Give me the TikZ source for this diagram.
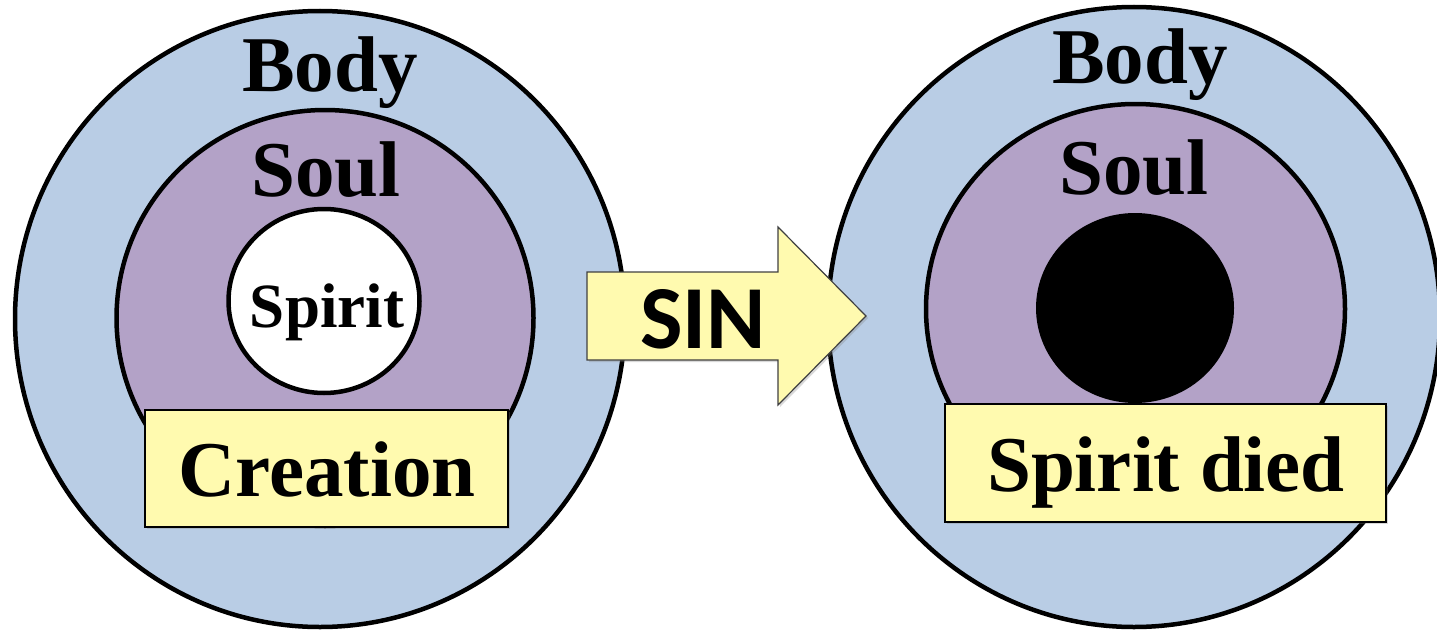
\documentclass[tikz,border=0pt]{standalone}
\usepackage{fontspec}
\setmainfont{Liberation Serif}
\newfontfamily\sinfont{Carlito}
\usetikzlibrary{shapes.geometric,shadows}
\definecolor{bodyblue}{HTML}{B9CDE5}
\definecolor{soulpurple}{HTML}{B3A2C7}
\definecolor{labelyellow}{HTML}{FFFAAF}
\tikzset{
  ring/.style={ellipse, draw=black, line width=4.5pt, inner sep=0pt},
  labelbox/.style={rectangle, draw=black, line width=2pt, fill=labelyellow, inner sep=0pt,
    drop shadow={opacity=0.3, shadow xshift=2pt, shadow yshift=-2pt}},
  bigtext/.style={anchor=base, inner sep=0pt, font=\bfseries\fontsize{79}{79}\selectfont},
}
\begin{document}
\begin{tikzpicture}[x=1pt,y=-1pt]
\useasboundingbox (0,0) rectangle (1437,634);
% left figure
\node[ring, fill=bodyblue, minimum width=610pt, minimum height=616pt] (lbody) at (320,319) {};
\node[ring, fill=soulpurple, minimum width=417pt, minimum height=416pt] (lsoul) at (325,318) {};
\node[ring, fill=white, minimum width=191pt, minimum height=184pt] (lspirit) at (324,301) {};
\node[labelbox, minimum width=363pt, minimum height=117pt] (lbox) at (326.5,468.5) {};
\node[bigtext] (lbodytxt) at (330,91) {Body};
\node[bigtext] (lsoultxt) at (326,196) {Soul};
\node[anchor=base, inner sep=0pt, font=\bfseries\fontsize{63}{63}\selectfont] (lspirittxt) at (327,327) {Spirit};
\node[bigtext] (lboxtxt) at (327,496.5) {Creation};
% right figure
\node[ring, fill=bodyblue, minimum width=612pt, minimum height=620pt] (rbody) at (1134,317) {};
\node[ring, fill=soulpurple, minimum width=419pt, minimum height=410pt] (rsoul) at (1135.5,309) {};
\node[ellipse, fill=black, inner sep=0pt, minimum width=198pt, minimum height=190pt] (rspirit) at (1135,308) {};
\node[labelbox, minimum width=441pt, minimum height=118pt] (rbox) at (1165.5,463) {};
\node[bigtext] (rbodytxt) at (1140,84) {Body};
\node[bigtext] (rsoultxt) at (1134,194) {Soul};
\node[bigtext] (rboxtxt) at (1166,491) {Spirit died};
% arrow
\draw[draw=black!75, line width=1.2pt, fill=labelyellow,
      drop shadow={opacity=0.3, shadow xshift=2pt, shadow yshift=-2pt}]
  (587,272) -- (778,272) -- (778,227) -- (866,316) -- (778,405) -- (778,360) -- (587,360) -- cycle;
\node[anchor=base, inner sep=0pt, font=\sinfont\bfseries\fontsize{90}{90}\selectfont] (sin) at (703,348) {SIN};
\end{tikzpicture}
\end{document}
